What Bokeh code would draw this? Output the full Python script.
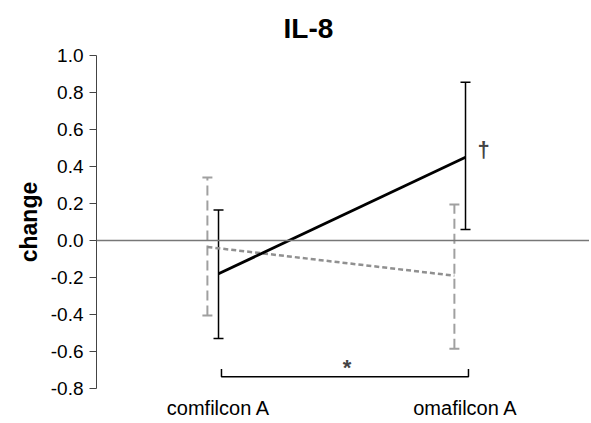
from bokeh.plotting import figure
from bokeh.models import ColumnDataSource, Whisker, TeeHead, Span, Label, FixedTicker, Range1d
from bokeh.embed import file_html
from bokeh.resources import INLINE

categories = ["comfilcon A", "omafilcon A"]
cat_x = [0.5, 1.5]
black_mean = [-0.18, 0.45]
black_upper = [0.165, 0.855]
black_lower = [-0.53, 0.06]
gray_mean = [-0.035, -0.19]
gray_upper = [0.34, 0.195]
gray_lower = [-0.405, -0.585]
y_ticks = [-0.8, -0.6, -0.4, -0.2, 0.0, 0.2, 0.4, 0.6, 0.8, 1.0]

gray_offset = -0.045
gx = [x + gray_offset for x in cat_x]

FONT = "Liberation Sans"

p = figure(width=589, height=421, output_backend="svg", toolbar_location=None,
           x_range=Range1d(0.006, 2.002), y_range=Range1d(-0.8, 1.0),
           min_border_left=96, min_border_right=0, min_border_top=55, min_border_bottom=31)
p.title.text = "IL-8"
p.title.text_font = FONT
p.title.text_font_size = "28px"
p.title.text_font_style = "bold"
p.title.text_color = "black"
p.title.align = "left"
p.title.offset = 187
p.title.standoff = 20
p.title.vertical_align = "top"
p.title.text_line_height = 0.5
p.outline_line_color = None
p.grid.visible = False
p.background_fill_color = "white"
p.border_fill_color = "white"

# axes
p.yaxis.ticker = FixedTicker(ticks=y_ticks)
p.yaxis.major_label_overrides = {t: f"{t:.1f}" for t in y_ticks}
p.yaxis.major_label_text_font = FONT
p.yaxis.major_label_text_font_size = "19px"
p.yaxis.major_label_text_color = "black"
p.yaxis.axis_line_color = "#444444"
p.yaxis.major_tick_line_color = "#444444"
p.yaxis.major_tick_out = 7
p.yaxis.major_tick_in = 0
p.yaxis.minor_tick_line_color = None
p.yaxis.major_label_standoff = 6
p.yaxis.axis_label = "change"
p.yaxis.axis_label_text_font = FONT
p.yaxis.axis_label_text_font_size = "23px"
p.yaxis.axis_label_text_font_style = "bold"
p.yaxis.axis_label_text_color = "black"
p.yaxis.axis_label_standoff = 6

p.xaxis.ticker = FixedTicker(ticks=cat_x)
p.xaxis.major_label_overrides = {x: c for x, c in zip(cat_x, categories)}
p.xaxis.major_label_text_font = FONT
p.xaxis.major_label_text_font_size = "20px"
p.xaxis.major_label_text_color = "black"
p.xaxis.axis_line_color = None
p.xaxis.major_tick_line_color = None
p.xaxis.major_tick_out = 0
p.xaxis.major_tick_in = 0
p.xaxis.minor_tick_line_color = None
p.xaxis.minor_tick_out = 0
p.xaxis.major_label_standoff = 8

# zero line
p.add_layout(Span(location=0, dimension="width", line_color="#777777", line_width=1.5))

# gray dashed series
gsrc = ColumnDataSource(dict(x=gx, y=gray_mean, up=gray_upper, lo=gray_lower))
p.add_layout(Whisker(source=gsrc, base="x", upper="up", lower="lo", dimension="height",
                     line_color="#a0a0a0", line_width=2, line_dash="10 5",
                     upper_head=TeeHead(size=10, line_color="#a0a0a0", line_width=2),
                     lower_head=TeeHead(size=10, line_color="#a0a0a0", line_width=2)))
p.line("x", "y", source=gsrc, line_color="#909090", line_width=2.5, line_dash="5 3")

# black series
bsrc = ColumnDataSource(dict(x=cat_x, y=black_mean, up=black_upper, lo=black_lower))
p.add_layout(Whisker(source=bsrc, base="x", upper="up", lower="lo", dimension="height",
                     line_color="black", line_width=1.5,
                     upper_head=TeeHead(size=10, line_color="black", line_width=1.5),
                     lower_head=TeeHead(size=10, line_color="black", line_width=1.5)))
p.line("x", "y", source=bsrc, line_color="black", line_width=2.8)

# significance bracket
p.line([0.512, 0.512, 1.512, 1.512], [-0.695, -0.737, -0.737, -0.695], line_color="black", line_width=1.5)
p.add_layout(Label(x=1.02, y=-0.685, text="*", text_font=FONT, text_font_size="22px",
                   text_font_style="bold", text_align="center", text_baseline="middle"))
p.add_layout(Label(x=1.573, y=0.49, text="†", text_font=FONT, text_font_size="22px",
                   text_font_style="bold", text_align="center", text_baseline="middle"))

open("out.html", "w").write(file_html(p, INLINE))
